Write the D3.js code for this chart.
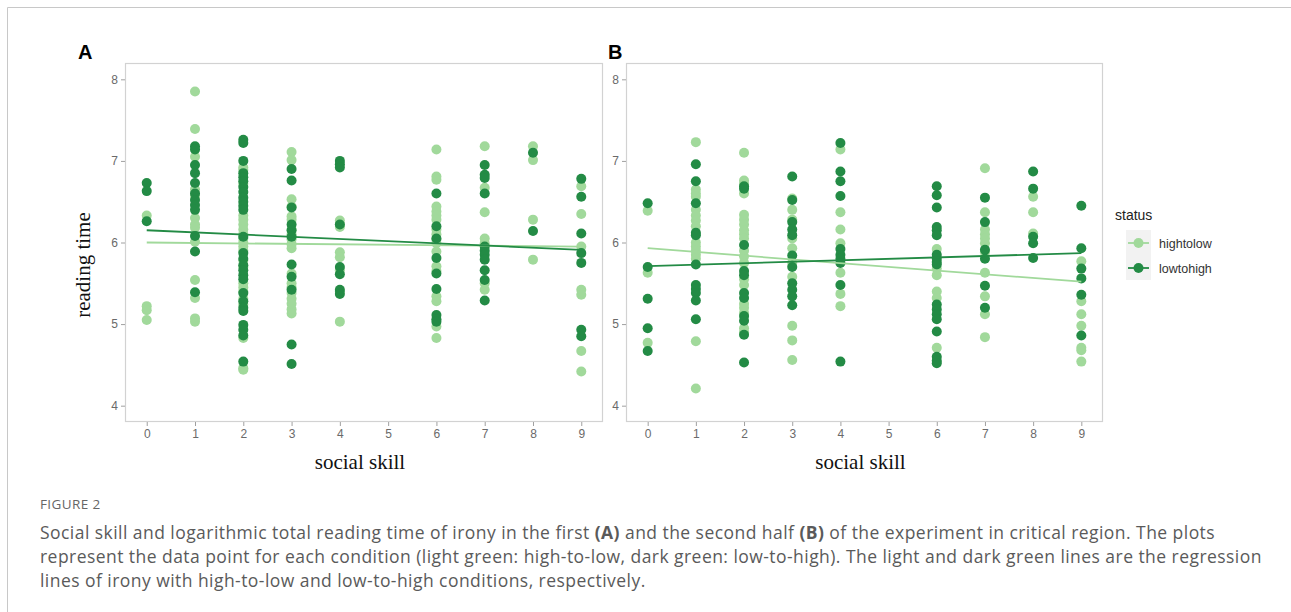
<!DOCTYPE html>
<html>
<head>
<meta charset="utf-8">
<script src="https://cdn.jsdelivr.net/npm/d3@7"></script>
<style>
  body { margin: 0; background: #fff; }
  svg text { font-family: "Liberation Sans", Arial, sans-serif; }
</style>
</head>
<body>
<svg id="chart" width="1291" height="612"></svg>
<script>
// social skill levels present in the data (no 5)
const skills = [0, 1, 2, 3, 4, 6, 7, 8, 9];
const statusNames = ["hightolow", "lowtohigh"];
const xTicks = [0, 1, 2, 3, 4, 5, 6, 7, 8, 9];
const yTicks = [4, 5, 6, 7, 8];

// panel A : first half, values per skill level
const firstHigh = [
  [6.33, 5.22, 5.17, 5.05],
  [7.85, 7.39, 7.05, 6.65, 6.57, 6.30, 6.22, 6.18, 6.01, 5.54, 5.32, 5.07, 5.03],
  [6.92, 6.89, 6.72, 6.33, 6.28, 6.22, 6.16, 6.10, 6.05, 6.00, 5.95, 5.90, 5.78, 5.70, 5.50, 5.45, 5.40, 5.31, 5.24, 4.83, 4.46, 4.44],
  [7.11, 7.01, 6.53, 6.44, 6.32, 6.28, 6.16, 6.10, 6.04, 5.98, 5.93, 5.62, 5.50, 5.45, 5.38, 5.31, 5.25, 5.18, 5.13],
  [6.27, 6.22, 6.19, 5.88, 5.82, 5.66, 5.40, 5.03],
  [7.14, 6.81, 6.77, 6.44, 6.38, 6.33, 6.28, 6.16, 6.10, 6.04, 5.99, 5.89, 5.71, 5.65, 5.34, 5.28, 4.97, 4.83],
  [7.18, 6.67, 6.37, 6.05, 5.99, 5.50, 5.42],
  [7.18, 7.01, 6.28, 5.79],
  [6.69, 6.35, 5.95, 5.42, 5.36, 4.67, 4.42]
];
const firstLow = [
  [6.73, 6.63, 6.26],
  [7.18, 7.14, 6.95, 6.85, 6.73, 6.60, 6.52, 6.46, 6.40, 6.08, 5.89, 5.39],
  [7.26, 7.22, 7.00, 6.85, 6.80, 6.75, 6.68, 6.62, 6.55, 6.50, 6.45, 6.40, 6.07, 5.87, 5.80, 5.72, 5.66, 5.60, 5.55, 5.38, 5.28, 5.20, 5.16, 4.99, 4.93, 4.86, 4.54],
  [6.90, 6.76, 6.43, 6.22, 6.15, 6.07, 5.73, 5.58, 5.42, 4.75, 4.51],
  [7.00, 6.96, 6.92, 6.22, 5.70, 5.61, 5.42, 5.37],
  [6.60, 6.20, 6.05, 5.81, 5.62, 5.43, 5.11, 5.06, 5.03],
  [6.95, 6.83, 6.79, 6.60, 5.95, 5.90, 5.85, 5.79, 5.66, 5.54, 5.29],
  [7.10, 6.14],
  [6.78, 6.56, 6.11, 5.87, 5.75, 4.93, 4.85]
];

// panel B : second half
const secondHigh = [
  [6.39, 5.63, 4.77],
  [7.23, 6.65, 6.60, 6.56, 6.40, 6.33, 6.27, 6.20, 6.00, 5.95, 5.90, 5.85, 5.80, 4.79, 4.21],
  [7.10, 6.76, 6.72, 6.60, 6.34, 6.28, 6.22, 6.15, 6.10, 6.05, 5.90, 5.83, 5.75, 5.55, 5.48, 5.25, 5.20, 5.14, 4.95, 4.90],
  [6.54, 6.40, 6.28, 6.05, 5.93, 5.75, 5.58, 4.98, 4.80, 4.56],
  [7.14, 6.37, 6.16, 5.99, 5.63, 5.37, 5.22],
  [5.92, 5.68, 5.60, 5.40, 5.32, 4.71],
  [6.91, 6.37, 6.16, 6.10, 6.05, 5.99, 5.88, 5.63, 5.34, 5.12, 4.84],
  [6.56, 6.37, 6.11],
  [5.77, 5.28, 5.12, 4.98, 4.71, 4.68, 4.54]
];
const secondLow = [
  [6.48, 5.70, 5.31, 4.95, 4.67],
  [6.96, 6.75, 6.48, 6.12, 6.09, 5.73, 5.48, 5.43, 5.38, 5.29, 5.06],
  [6.69, 6.66, 5.97, 5.65, 5.60, 5.38, 5.32, 5.10, 5.04, 4.87, 4.53],
  [6.81, 6.52, 6.25, 6.16, 6.09, 5.84, 5.70, 5.50, 5.42, 5.34, 5.23],
  [7.22, 6.87, 6.75, 6.57, 5.92, 5.85, 5.80, 5.75, 5.48, 4.54],
  [6.69, 6.58, 6.43, 6.19, 6.15, 6.09, 5.85, 5.80, 5.76, 5.73, 5.24, 5.18, 5.12, 5.06, 4.91, 4.60, 4.55, 4.52],
  [6.55, 6.25, 5.91, 5.80, 5.47, 5.20],
  [6.87, 6.66, 6.07, 5.99, 5.81],
  [6.45, 5.93, 5.68, 5.56, 5.36, 4.86]
];

// regression lines, fitted value at skill 0 and skill 9
const fitFirstHigh = [6.00, 5.95];
const fitFirstLow = [6.15, 5.91];
const fitSecondHigh = [5.93, 5.52];
const fitSecondLow = [5.71, 5.87];

const colors = { hightolow: "#a1d99b", lowtohigh: "#238b45" };

const svg = d3.select("#chart");

// page frame
svg.append("line").attr("x1", 7.5).attr("x2", 1291).attr("y1", 7.5).attr("y2", 7.5)
  .attr("stroke", "#c8c8c8");
svg.append("line").attr("x1", 7.5).attr("x2", 7.5).attr("y1", 7.5).attr("y2", 612)
  .attr("stroke", "#c8c8c8");

let flatten = (arr, status) => {
  let out = [];
  arr.forEach((vals, i) => vals.forEach(v => out.push({ skill: skills[i], value: v, status: status })));
  return out;
};

let drawPanel = function (p) {
  let x = d3.scaleLinear().domain([-0.45, 9.45]).range([p.left, p.right]);
  let y = d3.scaleLinear().domain([3.8, 8.2]).range([p.bottom, p.top]);

  let g = svg.append("g");

  g.append("rect")
    .attr("x", p.left + 0.5).attr("y", p.top + 0.5)
    .attr("width", p.right - p.left - 1).attr("height", p.bottom - p.top - 1)
    .attr("fill", "#fff").attr("stroke", "#d2d2d2").attr("stroke-width", 1.2);

  // axes
  let xAxis = g.append("g")
    .attr("transform", `translate(0,${p.bottom})`)
    .call(d3.axisBottom(x).tickValues(xTicks).tickFormat(d3.format("d")).tickSize(4).tickPadding(3));
  let yAxis = g.append("g")
    .attr("transform", `translate(${p.left},0)`)
    .call(d3.axisLeft(y).tickValues(yTicks).tickFormat(d3.format("d")).tickSize(4).tickPadding(3));
  [xAxis, yAxis].forEach(a => {
    a.select(".domain").remove();
    a.selectAll(".tick line").attr("stroke", "#a0a0a0");
    a.selectAll(".tick text")
      .attr("fill", "#6a6a6a")
      .style("font-size", "12px")
      .style("font-family", "'Liberation Sans', Arial, sans-serif");
  });

  // points
  let pts = flatten(p.high, "hightolow").concat(flatten(p.low, "lowtohigh"));
  g.selectAll("circle.pt")
    .data(pts)
    .enter()
    .append("circle")
      .attr("class", "pt")
      .attr("cx", d => x(d.skill))
      .attr("cy", d => y(d.value))
      .attr("r", 5)
      .attr("fill", d => colors[d.status]);

  // regression lines
  [["hightolow", p.fitHigh], ["lowtohigh", p.fitLow]].forEach(([s, f]) => {
    g.append("line")
      .attr("x1", x(0)).attr("y1", y(f[0]))
      .attr("x2", x(9)).attr("y2", y(f[1]))
      .attr("stroke", colors[s]).attr("stroke-width", 1.8);
  });

  // panel letter
  g.append("text")
    .attr("x", p.labelX).attr("y", 59)
    .style("font-size", "20px").style("font-weight", "bold")
    .attr("fill", "#000")
    .text(p.label);

  // axis titles
  g.append("text")
    .attr("x", (p.left + p.right) / 2 - 4).attr("y", 469)
    .attr("text-anchor", "middle")
    .style("font-family", "'Liberation Serif', 'Times New Roman', serif")
    .style("font-size", "21px")
    .attr("fill", "#111")
    .text("social skill");
};

drawPanel({ left: 125, right: 603, top: 63, bottom: 422, high: firstHigh, low: firstLow,
  fitHigh: fitFirstHigh, fitLow: fitFirstLow, label: "A", labelX: 78 });
drawPanel({ left: 626, right: 1103, top: 63, bottom: 422, high: secondHigh, low: secondLow,
  fitHigh: fitSecondHigh, fitLow: fitSecondLow, label: "B", labelX: 608 });

// y axis title (only on left panel)
svg.append("text")
  .attr("transform", "translate(90,265) rotate(-90)")
  .attr("text-anchor", "middle")
  .style("font-family", "'Liberation Serif', 'Times New Roman', serif")
  .style("font-size", "21px")
  .attr("fill", "#111")
  .text("reading time");

// legend
let legend = svg.append("g").attr("transform", "translate(1115,0)");
legend.append("text").attr("x", 0).attr("y", 220)
  .style("font-size", "14px").attr("fill", "#222").text("status");
legend.append("rect").attr("x", 11).attr("y", 230).attr("width", 25).attr("height", 50)
  .attr("fill", "#f2f2f2");
statusNames.forEach((s, i) => {
  let cy = 243 + i * 25;
  legend.append("line").attr("x1", 13).attr("x2", 34).attr("y1", cy).attr("y2", cy)
    .attr("stroke", colors[s]).attr("stroke-width", 1.8);
  legend.append("circle").attr("cx", 23.5).attr("cy", cy).attr("r", 5).attr("fill", colors[s]);
  legend.append("text").attr("x", 44).attr("y", cy + 4.5)
    .style("font-size", "12.5px").attr("fill", "#333").text(s);
});

// caption
let cap = svg.append("g");
cap.append("text").attr("x", 40).attr("y", 509)
  .style("font-family", "'Open Sans', sans-serif")
  .style("font-size", "13.5px").style("letter-spacing", "0.4px")
  .attr("fill", "#666").text("FIGURE 2");

const captionLines = [
  [["Social skill and logarithmic total reading time of irony in the first ", 0], ["(A)", 1],
   [" and the second half ", 0], ["(B)", 1], [" of the experiment in critical region. The plots", 0]],
  [["represent the data point for each condition (light green: high-to-low, dark green: low-to-high). The light and dark green lines are the regression", 0]],
  [["lines of irony with high-to-low and low-to-high conditions, respectively.", 0]]
];
captionLines.forEach((line, i) => {
  let t = cap.append("text").attr("x", 40).attr("y", 539 + i * 24)
    .style("font-family", "'Open Sans', sans-serif")
    .style("font-size", "17.5px").style("letter-spacing", "0.45px")
    .attr("fill", "#5a5a5a");
  line.forEach(([s, b]) => {
    t.append("tspan").style("font-weight", b ? "bold" : "normal").text(s);
  });
});
</script>
</body>
</html>
